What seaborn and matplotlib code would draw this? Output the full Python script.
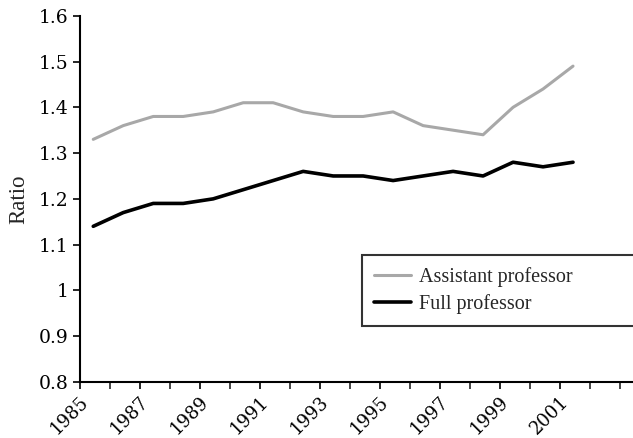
import matplotlib
matplotlib.use("Agg")
import matplotlib.pyplot as plt
import seaborn as sns
import pandas as pd
import numpy as np

years = list(range(1985, 2002))
assistant = [1.33, 1.36, 1.38, 1.38, 1.39, 1.41, 1.41, 1.39, 1.38, 1.38, 1.39,
             1.36, 1.35, 1.34, 1.40, 1.44, 1.49]
full = [1.14, 1.17, 1.19, 1.19, 1.20, 1.22, 1.24, 1.26, 1.25, 1.25, 1.24,
        1.25, 1.26, 1.25, 1.28, 1.27, 1.28]
xtick_labels = [str(y) for y in range(1985, 2002, 2)]
yticks = [0.8, 0.9, 1.0, 1.1, 1.2, 1.3, 1.4, 1.5, 1.6]
ytick_labels = ["0.8", "0.9", "1", "1.1", "1.2", "1.3", "1.4", "1.5", "1.6"]

sns.set_theme(style="ticks")
plt.rcParams['font.family'] = ['Liberation Serif', 'DejaVu Serif']

df = pd.DataFrame({
    "x": [y + 0.45 for y in years] * 2,
    "Ratio": assistant + full,
    "Series": ["Assistant professor"] * len(years) + ["Full professor"] * len(years),
})

fig = plt.figure(figsize=(6.33, 4.38), dpi=100)
ax = fig.add_axes([0.126, 0.128, 0.874, 0.836])
sns.lineplot(data=df, x="x", y="Ratio", hue="Series",
             palette={"Assistant professor": "#a8a8a8", "Full professor": "black"},
             ax=ax, legend=True)
for line in ax.lines:
    if line.get_color() in ("black", "#000000"):
        line.set_linewidth(2.6)
    else:
        line.set_linewidth(2.2)

ax.set_xlim(1985, 2003.45)
ax.set_ylim(0.8, 1.6)
ax.set_xticks(range(1985, 2002, 2))
ax.set_xticks(range(1985, 2004), minor=True)
ax.set_xticklabels(xtick_labels, rotation=45, ha="right", rotation_mode="anchor",
                   family="DejaVu Serif", fontsize=13)
ax.set_yticks(yticks)
ax.set_yticklabels(ytick_labels, family="DejaVu Serif", fontsize=13.5)
ax.set_xlabel("")
ax.set_ylabel("Ratio", fontsize=16.5, labelpad=7)
ax.tick_params(axis="both", which="major", length=5, width=1.2, colors="black", pad=3)
ax.tick_params(axis="x", which="minor", length=5, width=1.2)
for s in ["top", "right"]:
    ax.spines[s].set_visible(False)
for s in ["left", "bottom"]:
    ax.spines[s].set_linewidth(1.5)
    ax.spines[s].set_color("black")

handles, labels = ax.get_legend_handles_labels()
for h in handles:
    h.set_linewidth(2.6 if h.get_color() in ("black", "#000000") else 2.2)
leg = ax.legend(handles, labels, loc="upper left",
                bbox_to_anchor=(0.51, 0.153, 0.5, 0.194), mode="expand",
                borderaxespad=0, fontsize=14.5, frameon=True, fancybox=False,
                handlelength=1.85, handletextpad=0.4, labelspacing=0.35,
                borderpad=0.6)
leg.get_frame().set_edgecolor("black")
leg.get_frame().set_linewidth(1.5)
leg.set_clip_on(False)

fig.savefig("out.png", dpi=100)
